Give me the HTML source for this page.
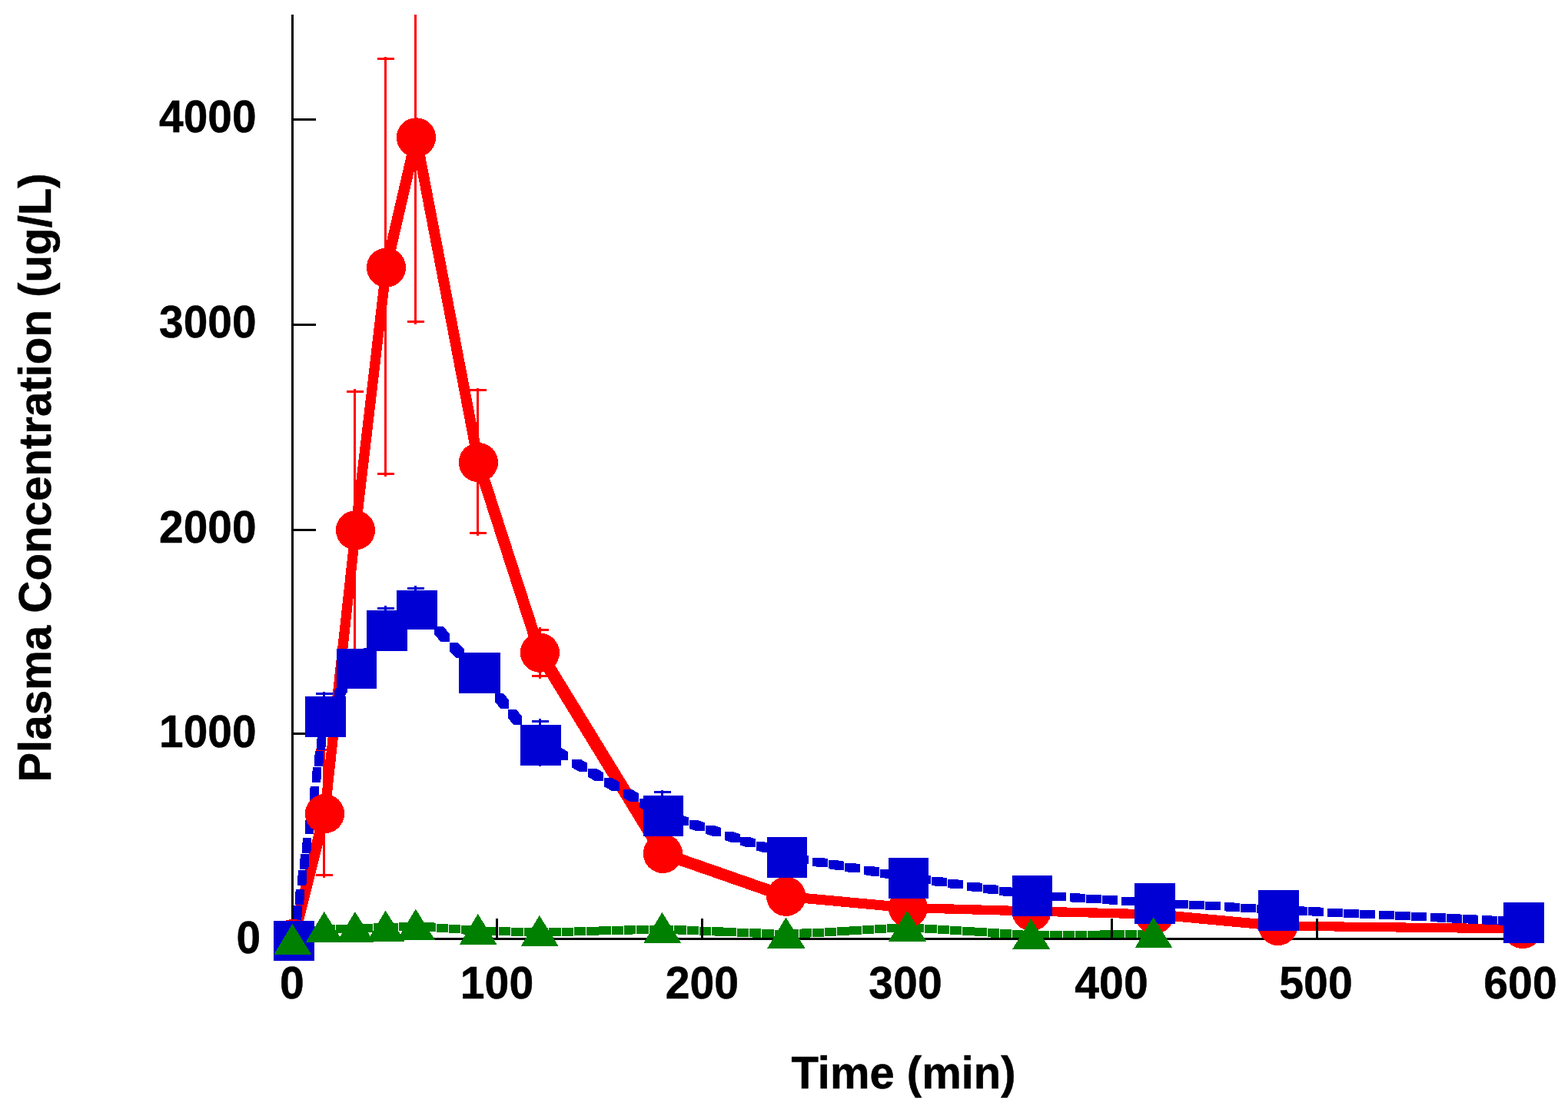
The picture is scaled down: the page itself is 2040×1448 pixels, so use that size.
<!DOCTYPE html>
<html lang="en"><head><meta charset="utf-8"><title>Plasma Concentration vs Time</title>
<style>html,body{margin:0;padding:0;background:#fff}body{width:2040px;height:1448px;overflow:hidden}svg{display:block}text{font-family:"Liberation Sans",Arial,Helvetica,sans-serif;font-weight:bold;fill:#000;stroke:#000;stroke-width:.5px}</style></head><body>
<svg width="2040" height="1448" viewBox="0 0 2040 1448" shape-rendering="crispEdges">
<rect width="2040" height="1448" fill="#fff"/>
<path fill="#ff0000" d="M420.1 975.3h3V1138.6h-3ZM411.1 973.8h22v3h-22ZM420.1 972.3h3v3h-3ZM411.1 1137.1h22v3h-22ZM420.1 1138.6h3v3h-3ZM460.2 509.0h3V870.6h-3ZM451.2 507.5h22v3h-22ZM460.2 506.0h3v3h-3ZM500.0 76.5h3V616.5h-3ZM491.0 75.0h22v3h-22ZM500.0 73.5h3v3h-3ZM491.0 615.0h22v3h-22ZM500.0 616.5h3v3h-3ZM539.1 19.0h3V418.6h-3ZM530.1 417.1h22v3h-22ZM539.1 418.6h3v3h-3ZM620.4 507.5h3V693.5h-3ZM611.4 506.0h22v3h-22ZM620.4 504.5h3v3h-3ZM611.4 692.0h22v3h-22ZM620.4 693.5h3v3h-3ZM700.5 819.2h3V879.8h-3ZM691.5 817.7h22v3h-22ZM700.5 816.2h3v3h-3ZM691.5 878.3h22v3h-22ZM700.5 879.8h3v3h-3Z"/>
<path fill="#0000d4" d="M420.1 902.7h3V910.0h-3ZM411.1 901.2h22v3h-22ZM420.1 899.7h3v3h-3ZM500.0 791.4h3V800.0h-3ZM491.0 789.9h22v3h-22ZM500.0 788.4h3v3h-3ZM539.1 765.0h3V770.0h-3ZM530.1 763.5h22v3h-22ZM539.1 762.0h3v3h-3ZM700.5 938.0h3V997.0h-3ZM691.5 936.5h22v3h-22ZM700.5 935.0h3v3h-3ZM860.0 1030.6h3V1040.0h-3ZM851.0 1029.1h22v3h-22ZM860.0 1027.6h3v3h-3Z"/>
<path fill="#ff0000" d="M375.5 1215.4L416.5 1052.6L428.5 1052.6L428.5 1064.6L387.5 1227.4L375.5 1227.4ZM416.5 1052.6L456.5 683.8L468.5 683.8L468.5 695.8L428.5 1064.6L416.5 1064.6ZM456.5 683.8L496.5 342.1L508.5 342.1L508.5 354.1L468.5 695.8L456.5 695.8ZM496.5 342.1L535.5 172.9L547.5 172.9L547.5 184.9L508.5 354.1L496.5 354.1ZM535.5 172.9L547.5 172.9L628.4 595.6L628.4 607.6L616.4 607.6L535.5 184.9ZM616.4 595.6L628.4 595.6L708.4 843.2L708.4 855.2L696.4 855.2L616.4 607.6ZM696.4 843.2L708.4 843.2L868.4 1104.4L868.4 1116.4L856.4 1116.4L696.4 855.2ZM856.4 1104.4L868.4 1104.4L1028.7 1160.3L1028.7 1172.3L1016.7 1172.3L856.4 1116.4ZM1016.7 1160.3L1028.7 1160.3L1187.4 1175L1187.4 1187L1175.4 1187L1016.7 1172.3ZM1175.4 1175L1187.4 1175L1348 1179.5L1348 1191.5L1336 1191.5L1175.4 1187ZM1336 1179.5L1348 1179.5L1508 1183.5L1508 1195.5L1496 1195.5L1336 1191.5ZM1496 1183.5L1508 1183.5L1668.7 1198.5L1668.7 1210.5L1656.7 1210.5L1496 1195.5ZM1656.7 1198.5L1668.7 1198.5L1987 1202.5L1987 1214.5L1975 1214.5L1656.7 1210.5Z"/>
<path fill="#0000d4" d="M377.8 1208.2L379.1 1199.3L390.1 1199.3L390.1 1210.3L388.8 1219.2L377.8 1219.2ZM380.7 1187.2L382 1178.3L393 1178.3L393 1189.3L391.7 1198.2L380.7 1198.2ZM383.7 1166.2L384.9 1157.3L395.9 1157.3L395.9 1168.3L394.7 1177.2L383.7 1177.2ZM387.2 1141.2L388.4 1132.3L399.4 1132.3L399.4 1143.3L398.2 1152.2L387.2 1152.2ZM390.1 1120.2L391.4 1111.3L402.4 1111.3L402.4 1122.3L401.1 1131.2L390.1 1131.2ZM393.1 1099.2L394.3 1090.3L405.3 1090.3L405.3 1101.3L404.1 1110.2L393.1 1110.2ZM396.6 1074.2L397.8 1065.3L408.8 1065.3L408.8 1076.3L407.6 1085.2L396.6 1085.2ZM399.5 1053.2L400.8 1044.3L411.8 1044.3L411.8 1055.3L410.5 1064.2L399.5 1064.2ZM402.5 1032.2L403.7 1023.3L414.7 1023.3L414.7 1034.3L413.5 1043.2L402.5 1043.2ZM406 1007.2L407.2 998.3L418.2 998.3L418.2 1009.3L417 1018.2L406 1018.2ZM408.9 986.2L410.2 977.3L421.2 977.3L421.2 988.3L419.9 997.2L408.9 997.2ZM411.9 965.2L413.1 956.3L424.1 956.3L424.1 967.3L422.9 976.2L411.9 976.2ZM415.4 940.2L416.6 931.3L427.6 931.3L427.6 942.3L426.4 951.2L415.4 951.2ZM421.7 919.2L427.4 910.3L438.4 910.3L438.4 921.3L432.7 930.2L421.7 930.2ZM435.2 898.2L440.9 889.3L451.9 889.3L451.9 900.3L446.2 909.2L435.2 909.2ZM451.3 873.2L457 864.3L468 864.3L468 875.3L462.3 884.2L451.3 884.2ZM466.5 852.2L473.6 843.3L484.6 843.3L484.6 854.3L477.5 863.2L466.5 863.2ZM483.4 831.2L490.5 822.3L501.5 822.3L501.5 833.3L494.4 842.2L483.4 842.2ZM505 808.5L513.8 802.3L524.8 802.3L524.8 813.3L516 819.5L505 819.5ZM526 793.9L534.8 787.7L545.8 787.7L545.8 798.7L537 804.9L526 804.9ZM546.1 794L557.1 794L565.3 802.9L565.3 813.9L554.3 813.9L546.1 805ZM565.4 815L576.4 815L584.6 823.9L584.6 834.9L573.6 834.9L565.4 826ZM584.9 836.1L595.9 836.1L604.1 845L604.1 856L593.1 856L584.9 847.1ZM604.3 857.1L615.3 857.1L623.5 866L623.5 877L612.5 877L604.3 868.1ZM627.1 881.1L638.1 881.1L645.3 890L645.3 901L634.3 901L627.1 892.1ZM644 902.1L655 902.1L662.2 911L662.2 922L651.2 922L644 913.1ZM660.9 923.1L671.9 923.1L679 932L679 943L668 943L660.9 934.1ZM677.8 944.1L688.8 944.1L695.9 953L695.9 964L684.9 964L677.8 955.1ZM694.7 965.1L705.7 965.1L708.5 968.6L708.5 979.6L697.5 979.6L694.7 976.1ZM698.3 960.6L709.3 960.6L718.2 965.8L718.2 976.8L707.2 976.8L698.3 971.6ZM719.3 972.9L730.3 972.9L739.2 978.2L739.2 989.2L728.2 989.2L719.3 983.9ZM744.3 987.7L755.3 987.7L764.2 992.9L764.2 1003.9L753.2 1003.9L744.3 998.7ZM765.1 999.9L776.1 999.9L785 1005.1L785 1016.1L774 1016.1L765.1 1010.9ZM786.1 1012.3L797.1 1012.3L806 1017.5L806 1028.5L795 1028.5L786.1 1023.3ZM810.9 1026.9L821.9 1026.9L830.8 1032.1L830.8 1043.1L819.8 1043.1L810.9 1037.9ZM831.9 1039.2L842.9 1039.2L851.8 1044.5L851.8 1055.5L840.8 1055.5L831.9 1050.2ZM852.9 1051.6L863.9 1051.6L868 1054L868 1065L857 1065L852.9 1062.6ZM857 1054.3L868 1054.3L875.1 1056.6L875.1 1067.6L864.1 1067.6L857 1065.3ZM876.2 1060.5L887.2 1060.5L896.1 1063.4L896.1 1074.4L885.1 1074.4L876.2 1071.5ZM897.1 1067.3L908.1 1067.3L917 1070.1L917 1081.1L906 1081.1L897.1 1078.3ZM918 1074L929 1074L937.9 1076.9L937.9 1087.9L926.9 1087.9L918 1085ZM943 1082.1L954 1082.1L962.9 1085L962.9 1096L951.9 1096L943 1093.1ZM963.1 1088.6L974.1 1088.6L983 1091.4L983 1102.4L972 1102.4L963.1 1099.6ZM984.1 1095.4L995.1 1095.4L1004 1098.2L1004 1109.2L993 1109.2L984.1 1106.4ZM1009 1103.4L1020 1103.4L1028.9 1106.3L1028.9 1117.3L1017.9 1117.3L1009 1114.4ZM1017.9 1109.1L1028.9 1109.1L1030.8 1109.4L1030.8 1120.4L1019.8 1120.4L1017.9 1120.1ZM1031.9 1111.5L1042.9 1111.5L1051.8 1113L1051.8 1124L1040.8 1124L1031.9 1122.5ZM1056.9 1115.7L1067.9 1115.7L1076.8 1117.2L1076.8 1128.2L1065.8 1128.2L1056.9 1126.7ZM1077.9 1119.2L1088.9 1119.2L1097.8 1120.7L1097.8 1131.7L1086.8 1131.7L1077.9 1130.2ZM1098.9 1122.8L1109.9 1122.8L1118.8 1124.3L1118.8 1135.3L1107.8 1135.3L1098.9 1133.8ZM1123.9 1127L1134.9 1127L1143.8 1128.5L1143.8 1139.5L1132.8 1139.5L1123.9 1138ZM1144.9 1130.5L1155.9 1130.5L1164.8 1132L1164.8 1143L1153.8 1143L1144.9 1141.5ZM1165.9 1134.1L1176.9 1134.1L1185.8 1135.6L1185.8 1146.6L1174.8 1146.6L1165.9 1145.1ZM1190.9 1137.9L1201.9 1137.9L1210.8 1139.2L1210.8 1150.2L1199.8 1150.2L1190.9 1148.9ZM1211.9 1141L1222.9 1141L1231.8 1142.2L1231.8 1153.2L1220.8 1153.2L1211.9 1152ZM1232.9 1144L1243.9 1144L1252.8 1145.3L1252.8 1156.3L1241.8 1156.3L1232.9 1155ZM1257.9 1147.6L1268.9 1147.6L1277.8 1148.9L1277.8 1159.9L1266.8 1159.9L1257.9 1158.6ZM1278.9 1150.6L1289.9 1150.6L1298.8 1151.9L1298.8 1162.9L1287.8 1162.9L1278.9 1161.6ZM1299.9 1153.7L1310.9 1153.7L1319.8 1155L1319.8 1166L1308.8 1166L1299.9 1164.7ZM1324.9 1157.3L1335.9 1157.3L1344.8 1158.6L1344.8 1169.6L1333.8 1169.6L1324.9 1168.3ZM1345.9 1159.6L1356.9 1159.6L1365.8 1160.1L1365.8 1171.1L1354.8 1171.1L1345.9 1170.6ZM1366.9 1160.9L1377.9 1160.9L1386.8 1161.4L1386.8 1172.4L1375.8 1172.4L1366.9 1171.9ZM1391.9 1162.4L1402.9 1162.4L1411.8 1162.9L1411.8 1173.9L1400.8 1173.9L1391.9 1173.4ZM1412.9 1163.7L1423.9 1163.7L1432.8 1164.2L1432.8 1175.2L1421.8 1175.2L1412.9 1174.7ZM1433.9 1165L1444.9 1165L1453.8 1165.5L1453.8 1176.5L1442.8 1176.5L1433.9 1176ZM1458.9 1166.5L1469.9 1166.5L1478.8 1167L1478.8 1178L1467.8 1178L1458.9 1177.5ZM1479.9 1167.8L1490.9 1167.8L1499.8 1168.3L1499.8 1179.3L1488.8 1179.3L1479.9 1178.8ZM1500.9 1169.1L1511.9 1169.1L1520.8 1169.6L1520.8 1180.6L1509.8 1180.6L1500.9 1180.1ZM1525.9 1170.5L1536.9 1170.5L1545.8 1171L1545.8 1182L1534.8 1182L1525.9 1181.5ZM1546.9 1171.7L1557.9 1171.7L1566.8 1172.2L1566.8 1183.2L1555.8 1183.2L1546.9 1182.7ZM1567.9 1172.9L1578.9 1172.9L1587.8 1173.4L1587.8 1184.4L1576.8 1184.4L1567.9 1183.9ZM1592.9 1174.4L1603.9 1174.4L1612.8 1174.9L1612.8 1185.9L1601.8 1185.9L1592.9 1185.4ZM1613.9 1175.6L1624.9 1175.6L1633.8 1176.1L1633.8 1187.1L1622.8 1187.1L1613.9 1186.6ZM1634.9 1176.8L1645.9 1176.8L1654.8 1177.3L1654.8 1188.3L1643.8 1188.3L1634.9 1187.8ZM1659.9 1178.2L1670.9 1178.2L1679.8 1178.7L1679.8 1189.7L1668.8 1189.7L1659.9 1189.2ZM1680.9 1179.3L1691.9 1179.3L1700.8 1179.7L1700.8 1190.7L1689.8 1190.7L1680.9 1190.3ZM1701.9 1180.3L1712.9 1180.3L1721.8 1180.7L1721.8 1191.7L1710.8 1191.7L1701.9 1191.3ZM1726.9 1181.5L1737.9 1181.5L1746.8 1181.9L1746.8 1192.9L1735.8 1192.9L1726.9 1192.5ZM1747.9 1182.5L1758.9 1182.5L1767.8 1183L1767.8 1194L1756.8 1194L1747.9 1193.5ZM1768.9 1183.6L1779.9 1183.6L1788.8 1184L1788.8 1195L1777.8 1195L1768.9 1194.6ZM1793.9 1184.8L1804.9 1184.8L1813.8 1185.2L1813.8 1196.2L1802.8 1196.2L1793.9 1195.8ZM1814.9 1185.8L1825.9 1185.8L1834.8 1186.3L1834.8 1197.3L1823.8 1197.3L1814.9 1196.8ZM1835.9 1186.9L1846.9 1186.9L1855.8 1187.3L1855.8 1198.3L1844.8 1198.3L1835.9 1197.9ZM1860.9 1188.1L1871.9 1188.1L1880.8 1188.5L1880.8 1199.5L1869.8 1199.5L1860.9 1199.1ZM1881.9 1189.1L1892.9 1189.1L1901.8 1189.6L1901.8 1200.6L1890.8 1200.6L1881.9 1200.1ZM1902.9 1190.1L1913.9 1190.1L1922.8 1190.6L1922.8 1201.6L1911.8 1201.6L1902.9 1201.1ZM1927.9 1191.4L1938.9 1191.4L1947.8 1191.8L1947.8 1202.8L1936.8 1202.8L1927.9 1202.4ZM1948.9 1192.4L1959.9 1192.4L1968.8 1192.8L1968.8 1203.8L1957.8 1203.8L1948.9 1203.4ZM1969.9 1193.4L1980.9 1193.4L1987.3 1193.7L1987.3 1204.7L1976.3 1204.7L1969.9 1204.4Z"/>
<path fill="#008000" d="M374.9 1218.5L376.3 1218L387.3 1218L387.3 1229L385.9 1229.5L374.9 1229.5ZM388.2 1213.4L392.6 1211.7L403.6 1211.7L403.6 1222.7L399.2 1224.4L388.2 1224.4ZM404.5 1207.1L408.9 1205.4L419.9 1205.4L419.9 1216.4L415.5 1218.1L404.5 1218.1ZM420.8 1202.5L436.2 1202.5L436.2 1213.5L420.8 1213.5ZM437.1 1202.5L452.5 1202.5L452.5 1213.5L437.1 1213.5ZM453.4 1202.5L467.4 1202.5L467.4 1213.5L453.4 1213.5ZM456.4 1202.5L457.8 1202.4L468.8 1202.4L468.8 1213.4L467.4 1213.5L456.4 1213.5ZM469.7 1202L474.1 1201.8L485.1 1201.8L485.1 1212.8L480.7 1213L469.7 1213ZM486 1201.4L490.4 1201.2L501.4 1201.2L501.4 1212.2L497 1212.4L486 1212.4ZM502.3 1200.7L506.7 1200.5L517.7 1200.5L517.7 1211.5L513.3 1211.7L502.3 1211.7ZM518.6 1199.9L523 1199.6L534 1199.6L534 1210.6L529.6 1210.9L518.6 1210.9ZM534.9 1199L546.3 1199L546.3 1210L534.9 1210ZM535.3 1199L546.3 1199L550.3 1199.3L550.3 1210.3L539.3 1210.3L535.3 1210ZM551.2 1200.3L562.2 1200.3L566.6 1200.6L566.6 1211.6L555.6 1211.6L551.2 1211.3ZM567.5 1201.6L578.5 1201.6L582.9 1201.9L582.9 1212.9L571.9 1212.9L567.5 1212.6ZM583.8 1202.9L594.8 1202.9L599.2 1203.2L599.2 1214.2L588.2 1214.2L583.8 1213.9ZM600.1 1204.2L611.1 1204.2L615.5 1204.6L615.5 1215.6L604.5 1215.6L600.1 1215.2ZM616.4 1205.5L627.4 1205.5L631.8 1205.6L631.8 1216.6L620.8 1216.6L616.4 1216.5ZM632.7 1205.9L643.7 1205.9L648.1 1206L648.1 1217L637.1 1217L632.7 1216.9ZM649 1206.3L660 1206.3L664.4 1206.4L664.4 1217.4L653.4 1217.4L649 1217.3ZM665.3 1206.7L676.3 1206.7L680.7 1206.8L680.7 1217.8L669.7 1217.8L665.3 1217.7ZM681.6 1207.1L692.6 1207.1L697 1207.2L697 1218.2L686 1218.2L681.6 1218.1ZM697.9 1207.5L702.3 1207.3L713.3 1207.3L713.3 1218.3L708.9 1218.5L697.9 1218.5ZM714.2 1207L718.6 1206.9L729.6 1206.9L729.6 1217.9L725.2 1218L714.2 1218ZM730.5 1206.6L734.9 1206.5L745.9 1206.5L745.9 1217.5L741.5 1217.6L730.5 1217.6ZM746.8 1206.2L751.2 1206.1L762.2 1206.1L762.2 1217.1L757.8 1217.2L746.8 1217.2ZM763.1 1205.8L767.5 1205.7L778.5 1205.7L778.5 1216.7L774.1 1216.8L763.1 1216.8ZM779.4 1205.4L783.8 1205.3L794.8 1205.3L794.8 1216.3L790.4 1216.4L779.4 1216.4ZM795.7 1204.9L800.1 1204.8L811.1 1204.8L811.1 1215.8L806.7 1215.9L795.7 1215.9ZM812 1204.5L816.4 1204.4L827.4 1204.4L827.4 1215.4L823 1215.5L812 1215.5ZM828.3 1204.1L832.7 1204L843.7 1204L843.7 1215L839.3 1215.1L828.3 1215.1ZM844.6 1203.7L849 1203.6L860 1203.6L860 1214.6L855.6 1214.7L844.6 1214.7ZM860.9 1203.6L871.9 1203.6L876.3 1203.8L876.3 1214.8L865.3 1214.8L860.9 1214.6ZM877.2 1204.3L888.2 1204.3L892.6 1204.5L892.6 1215.5L881.6 1215.5L877.2 1215.3ZM893.5 1204.9L904.5 1204.9L908.9 1205.1L908.9 1216.1L897.9 1216.1L893.5 1215.9ZM909.8 1205.6L920.8 1205.6L925.2 1205.8L925.2 1216.8L914.2 1216.8L909.8 1216.6ZM926.1 1206.3L937.1 1206.3L941.5 1206.5L941.5 1217.5L930.5 1217.5L926.1 1217.3ZM942.4 1206.9L953.4 1206.9L957.8 1207.1L957.8 1218.1L946.8 1218.1L942.4 1217.9ZM958.7 1207.6L969.7 1207.6L974.1 1207.8L974.1 1218.8L963.1 1218.8L958.7 1218.6ZM975 1208.3L986 1208.3L990.4 1208.5L990.4 1219.5L979.4 1219.5L975 1219.3ZM991.3 1208.9L1002.3 1208.9L1006.7 1209.1L1006.7 1220.1L995.7 1220.1L991.3 1219.9ZM1007.6 1209.6L1018.6 1209.6L1023 1209.8L1023 1220.8L1012 1220.8L1007.6 1220.6ZM1023.9 1209.6L1028.3 1209.4L1039.3 1209.4L1039.3 1220.4L1034.9 1220.6L1023.9 1220.6ZM1040.2 1208.7L1044.6 1208.4L1055.6 1208.4L1055.6 1219.4L1051.2 1219.7L1040.2 1219.7ZM1056.5 1207.7L1060.9 1207.5L1071.9 1207.5L1071.9 1218.5L1067.5 1218.7L1056.5 1218.7ZM1072.8 1206.8L1077.2 1206.6L1088.2 1206.6L1088.2 1217.6L1083.8 1217.8L1072.8 1217.8ZM1089.1 1205.9L1093.5 1205.6L1104.5 1205.6L1104.5 1216.6L1100.1 1216.9L1089.1 1216.9ZM1105.4 1205L1109.8 1204.7L1120.8 1204.7L1120.8 1215.7L1116.4 1216L1105.4 1216ZM1121.7 1204L1126.1 1203.8L1137.1 1203.8L1137.1 1214.8L1132.7 1215L1121.7 1215ZM1138 1203.1L1142.4 1202.8L1153.4 1202.8L1153.4 1213.8L1149 1214.1L1138 1214.1ZM1154.3 1202.2L1158.7 1201.9L1169.7 1201.9L1169.7 1212.9L1165.3 1213.2L1154.3 1213.2ZM1170.6 1201.2L1174.7 1201L1185.7 1201L1185.7 1212L1181.6 1212.2L1170.6 1212.2ZM1174.7 1201L1186 1201L1186 1212L1174.7 1212ZM1186.9 1201.8L1197.9 1201.8L1202.3 1202.1L1202.3 1213.1L1191.3 1213.1L1186.9 1212.8ZM1203.2 1202.9L1214.2 1202.9L1218.6 1203.1L1218.6 1214.1L1207.6 1214.1L1203.2 1213.9ZM1219.5 1203.9L1230.5 1203.9L1234.9 1204.2L1234.9 1215.2L1223.9 1215.2L1219.5 1214.9ZM1235.8 1205L1246.8 1205L1251.2 1205.3L1251.2 1216.3L1240.2 1216.3L1235.8 1216ZM1252.1 1206L1263.1 1206L1267.5 1206.3L1267.5 1217.3L1256.5 1217.3L1252.1 1217ZM1268.4 1207.1L1279.4 1207.1L1283.8 1207.4L1283.8 1218.4L1272.8 1218.4L1268.4 1218.1ZM1284.7 1208.2L1295.7 1208.2L1300.1 1208.5L1300.1 1219.5L1289.1 1219.5L1284.7 1219.2ZM1301 1209.2L1312 1209.2L1316.4 1209.5L1316.4 1220.5L1305.4 1220.5L1301 1220.2ZM1317.3 1210.3L1328.3 1210.3L1332.7 1210.6L1332.7 1221.6L1321.7 1221.6L1317.3 1221.3ZM1333.6 1211.4L1344.6 1211.4L1346.8 1211.5L1346.8 1222.5L1335.8 1222.5L1333.6 1222.4ZM1335.8 1211.5L1349 1211.5L1349 1222.5L1335.8 1222.5ZM1349.9 1211.3L1365.3 1211.3L1365.3 1222.3L1349.9 1222.3ZM1366.2 1211.2L1370.6 1211.1L1381.6 1211.1L1381.6 1222.1L1377.2 1222.2L1366.2 1222.2ZM1382.5 1211L1397.9 1211L1397.9 1222L1382.5 1222ZM1398.8 1210.8L1414.2 1210.8L1414.2 1221.8L1398.8 1221.8ZM1415.1 1210.7L1419.5 1210.6L1430.5 1210.6L1430.5 1221.6L1426.1 1221.7L1415.1 1221.7ZM1431.4 1210.5L1435.8 1210.4L1446.8 1210.4L1446.8 1221.4L1442.4 1221.5L1431.4 1221.5ZM1447.7 1210.3L1463.1 1210.3L1463.1 1221.3L1447.7 1221.3ZM1464 1210.1L1479.4 1210.1L1479.4 1221.1L1464 1221.1ZM1480.3 1210L1484.7 1209.9L1495.7 1209.9L1495.7 1220.9L1491.3 1221L1480.3 1221Z"/>
<g fill="#000">
<rect x="379" y="19" width="3" height="1204"/>
<rect x="379" y="1220" width="1603" height="3"/>
<rect x="380" y="154" width="31" height="3"/>
<rect x="380" y="421" width="31" height="3"/>
<rect x="380" y="688" width="31" height="3"/>
<rect x="380" y="953" width="31" height="3"/>
<rect x="645" y="1195" width="3" height="27"/>
<rect x="912" y="1195" width="3" height="27"/>
<rect x="1178" y="1195" width="3" height="27"/>
<rect x="1445" y="1195" width="3" height="27"/>
<rect x="1712" y="1195" width="3" height="27"/>
</g>
<circle cx="381.5" cy="1221.4" r="25.6" fill="#ff0000"/>
<circle cx="422.5" cy="1058.6" r="25.6" fill="#ff0000"/>
<circle cx="462.5" cy="689.8" r="25.6" fill="#ff0000"/>
<circle cx="502.5" cy="348.1" r="25.6" fill="#ff0000"/>
<circle cx="541.5" cy="178.9" r="25.6" fill="#ff0000"/>
<circle cx="622.4" cy="601.6" r="25.6" fill="#ff0000"/>
<circle cx="702.4" cy="849.2" r="25.6" fill="#ff0000"/>
<circle cx="862.4" cy="1110.4" r="25.6" fill="#ff0000"/>
<circle cx="1022.7" cy="1166.3" r="25.6" fill="#ff0000"/>
<circle cx="1181.4" cy="1181.0" r="25.6" fill="#ff0000"/>
<circle cx="1342.0" cy="1185.5" r="25.6" fill="#ff0000"/>
<circle cx="1502.0" cy="1189.5" r="25.6" fill="#ff0000"/>
<circle cx="1662.7" cy="1204.5" r="25.6" fill="#ff0000"/>
<circle cx="1981.0" cy="1208.5" r="25.6" fill="#ff0000"/>
<rect x="356.0" y="1198.0" width="53.0" height="52.0" fill="#0000d4"/>
<rect x="396.9" y="906.3" width="52.9" height="52.3" fill="#0000d4"/>
<rect x="437.5" y="843.5" width="52.5" height="52.2" fill="#0000d4"/>
<rect x="476.7" y="794.3" width="53.1" height="52.2" fill="#0000d4"/>
<rect x="515.9" y="767.5" width="52.9" height="51.3" fill="#0000d4"/>
<rect x="597.3" y="848.8" width="53.5" height="52.8" fill="#0000d4"/>
<rect x="677.3" y="943.0" width="52.5" height="52.9" fill="#0000d4"/>
<rect x="837.3" y="1035.0" width="51.5" height="52.8" fill="#0000d4"/>
<rect x="998.0" y="1089.4" width="51.8" height="52.4" fill="#0000d4"/>
<rect x="1155.9" y="1115.9" width="51.9" height="52.7" fill="#0000d4"/>
<rect x="1316.7" y="1139.2" width="51.9" height="52.6" fill="#0000d4"/>
<rect x="1476.0" y="1149.0" width="52.8" height="52.6" fill="#0000d4"/>
<rect x="1636.9" y="1158.4" width="52.9" height="52.4" fill="#0000d4"/>
<rect x="1956.0" y="1173.8" width="52.6" height="52.9" fill="#0000d4"/>
<polygon points="380.4,1202.0 405.3,1242.0 356.3,1242.0" fill="#008000"/>
<polygon points="421.8,1186.0 446.7,1226.0 397.7,1226.0" fill="#008000"/>
<polygon points="461.9,1186.0 486.8,1226.0 437.8,1226.0" fill="#008000"/>
<polygon points="501.6,1184.5 526.5,1224.5 477.5,1224.5" fill="#008000"/>
<polygon points="540.8,1182.5 565.7,1222.5 516.7,1222.5" fill="#008000"/>
<polygon points="621.8,1189.0 646.7,1229.0 597.7,1229.0" fill="#008000"/>
<polygon points="701.8,1191.0 726.7,1231.0 677.7,1231.0" fill="#008000"/>
<polygon points="861.4,1186.9 886.3,1226.9 837.3,1226.9" fill="#008000"/>
<polygon points="1022.5,1193.5 1047.4,1233.5 998.4,1233.5" fill="#008000"/>
<polygon points="1180.2,1184.5 1205.1,1224.5 1156.1,1224.5" fill="#008000"/>
<polygon points="1341.3,1195.0 1366.2,1235.0 1317.2,1235.0" fill="#008000"/>
<polygon points="1500.6,1193.3 1525.5,1233.3 1476.5,1233.3" fill="#008000"/>
<text transform="translate(333.5 172.1) scale(0.98 1.012)" font-size="58" text-anchor="end">4000</text>
<text transform="translate(333.5 439.0) scale(0.98 1.012)" font-size="58" text-anchor="end">3000</text>
<text transform="translate(333.5 706.0) scale(0.98 1.012)" font-size="58" text-anchor="end">2000</text>
<text transform="translate(333.5 971.6) scale(0.98 1.012)" font-size="58" text-anchor="end">1000</text>
<text transform="translate(339.0 1239.7) scale(0.98 1.012)" font-size="58" text-anchor="end">0</text>
<text transform="translate(380 1299.3) scale(0.985 1.008)" font-size="58" text-anchor="middle">0</text>
<text transform="translate(646.5 1299.3) scale(0.985 1.008)" font-size="58" text-anchor="middle">100</text>
<text transform="translate(913.3 1299.3) scale(0.985 1.008)" font-size="58" text-anchor="middle">200</text>
<text transform="translate(1178 1299.3) scale(0.985 1.008)" font-size="58" text-anchor="middle">300</text>
<text transform="translate(1446 1299.3) scale(0.985 1.008)" font-size="58" text-anchor="middle">400</text>
<text transform="translate(1712 1299.3) scale(0.985 1.008)" font-size="58" text-anchor="middle">500</text>
<text transform="translate(1978 1299.3) scale(0.985 1.008)" font-size="58" text-anchor="middle">600</text>
<text transform="translate(1175.5 1415.8) scale(1 1.035)" font-size="58" text-anchor="middle">Time (min)</text>
<text transform="translate(66 621.5) rotate(-90) scale(1.004 1.035)" font-size="58" text-anchor="middle">Plasma Concentration (ug/L)</text>
</svg></body></html>
